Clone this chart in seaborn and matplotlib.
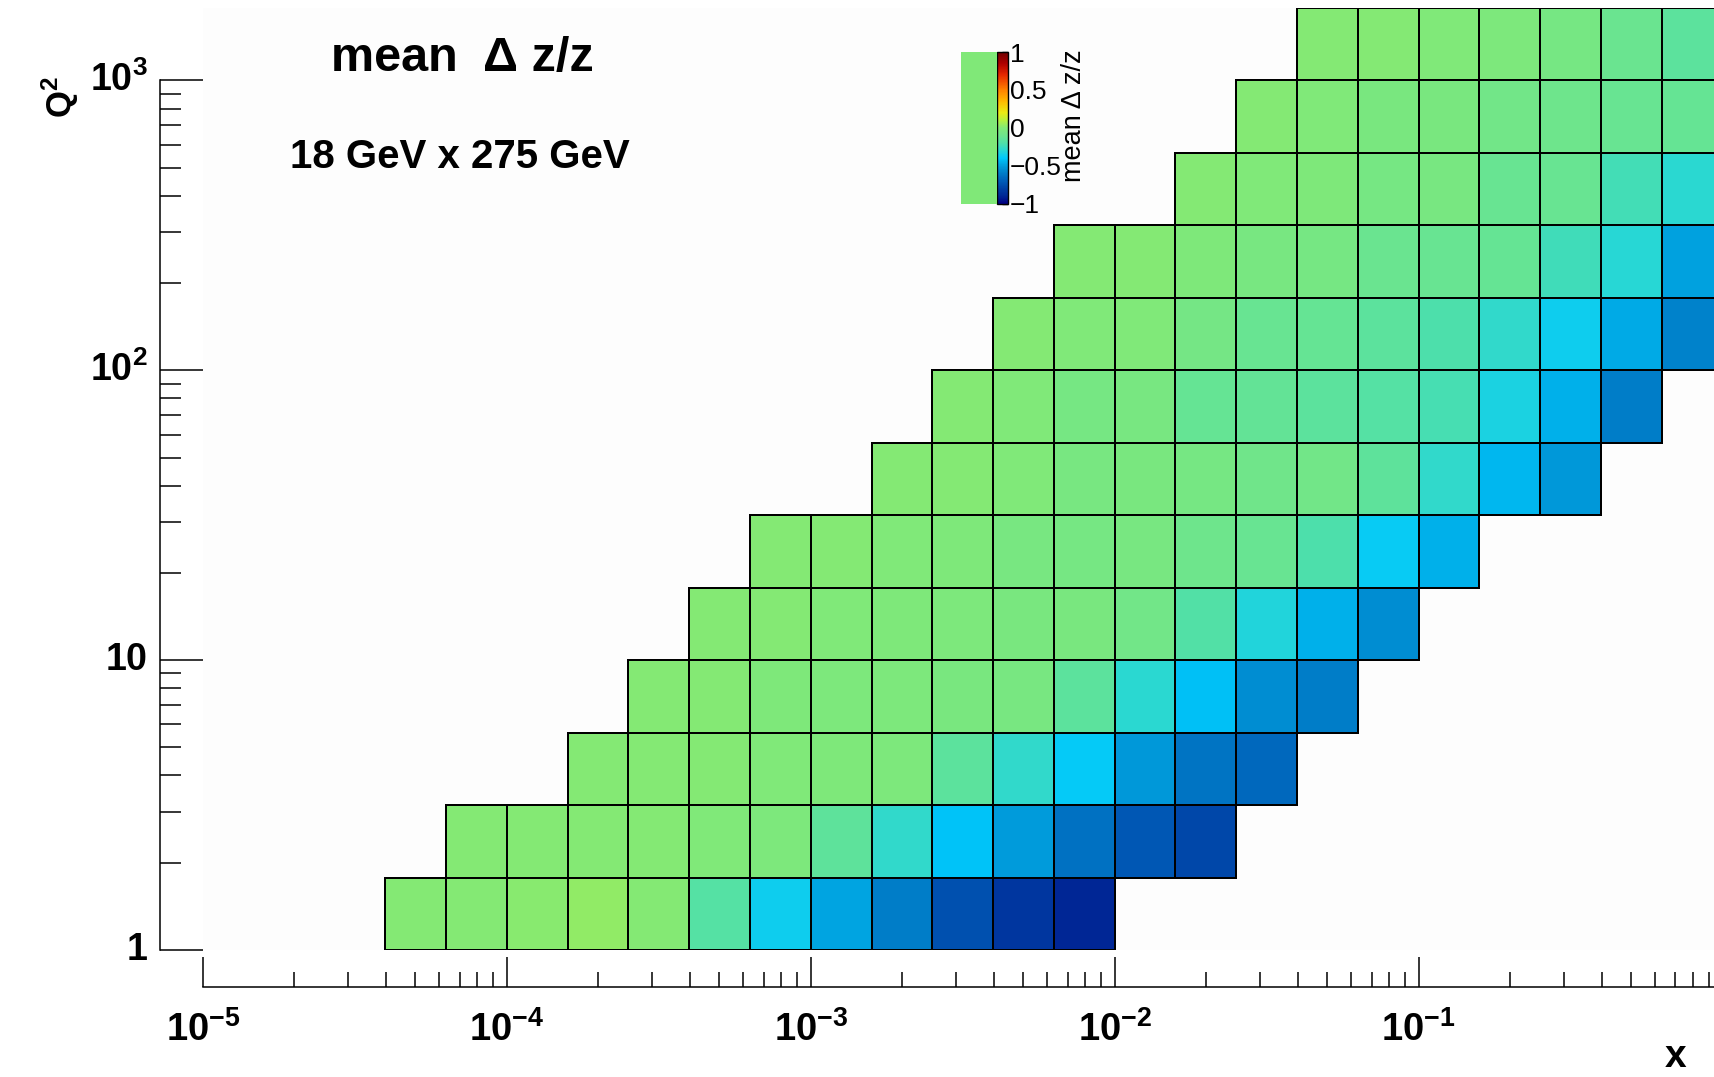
import numpy as np
import pandas as pd
import matplotlib
matplotlib.use("Agg")
import matplotlib.pyplot as plt
import seaborn as sns
from matplotlib.colors import LinearSegmentedColormap
from matplotlib.patches import Rectangle

# ---------------- data ----------------
# log10 bin edges of the 2D histogram (x: 5 bins/decade, Q2: 4 bins/decade)
log_x_edges = np.round(np.linspace(-5.0, 0.0, 26), 2)
log_q2_edges = np.round(np.linspace(0.0, 3.25, 14), 2)

# first filled x-bin of every Q2 row (row 0 = lowest Q2)
first_col = [3, 4, 6, 7, 8, 9, 11, 12, 13, 14, 16, 17, 18]

row_00 = [0.00, 0.00, 0.01, 0.025, 0.00, -0.18, -0.36, -0.49, -0.60, -0.75, -0.84, -0.90]
row_01 = [0.00, 0.00, 0.00, 0.00, -0.01, -0.03, -0.15, -0.28, -0.41, -0.51, -0.64, -0.72, -0.78]
row_02 = [0.00, 0.00, 0.00, -0.01, -0.02, -0.03, -0.16, -0.28, -0.39, -0.52, -0.63, -0.67]
row_03 = [0.00, 0.00, -0.02, -0.03, -0.03, -0.04, -0.05, -0.16, -0.29, -0.42, -0.55, -0.60]
row_04 = [0.00, 0.00, -0.01, -0.02, -0.03, -0.04, -0.04, -0.08, -0.19, -0.32, -0.46, -0.55]
row_05 = [0.00, 0.00, -0.01, -0.02, -0.05, -0.06, -0.05, -0.10, -0.12, -0.21, -0.38, -0.46]
row_06 = [0.00, 0.00, -0.01, -0.05, -0.04, -0.06, -0.09, -0.08, -0.15, -0.28, -0.44, -0.52]
row_07 = [0.00, -0.01, -0.06, -0.05, -0.13, -0.14, -0.16, -0.18, -0.22, -0.33, -0.46, -0.60]
row_08 = [0.00, -0.01, -0.01, -0.07, -0.12, -0.13, -0.16, -0.21, -0.28, -0.36, -0.47, -0.58]
row_09 = [0.00, 0.00, -0.02, -0.05, -0.06, -0.11, -0.12, -0.13, -0.24, -0.30, -0.50]
row_10 = [0.00, -0.01, -0.02, -0.06, -0.05, -0.12, -0.12, -0.23, -0.29]
row_11 = [0.00, -0.01, -0.04, -0.04, -0.08, -0.10, -0.12, -0.13]
row_12 = [0.00, 0.00, -0.01, -0.03, -0.06, -0.11, -0.16]

rows = [row_00, row_01, row_02, row_03, row_04, row_05, row_06,
        row_07, row_08, row_09, row_10, row_11, row_12]

x_major_exp = [-5, -4, -3, -2, -1]
x_major_labels = [r"$\mathbf{10^{-5}}$", r"$\mathbf{10^{-4}}$", r"$\mathbf{10^{-3}}$",
                  r"$\mathbf{10^{-2}}$", r"$\mathbf{10^{-1}}$"]
y_major_exp = [0, 1, 2, 3]
y_major_labels = [r"$\mathbf{1}$", r"$\mathbf{10}$", r"$\mathbf{10^{2}}$", r"$\mathbf{10^{3}}$"]
cbar_ticks = [-1, -0.5, 0, 0.5, 1]
cbar_labels = ["\u22121", "\u22120.5", "0", "0.5", "1"]

# ---------------- build matrix ----------------
n_x = len(log_x_edges) - 1
n_q = len(log_q2_edges) - 1
mat = np.full((n_q, n_x), np.nan)
for i, (c0, vals) in enumerate(zip(first_col, rows)):
    mat[i, c0:c0 + len(vals)] = vals
df = pd.DataFrame(mat)

# ---------------- style ----------------
sns.set_style("white")
plt.rcParams["font.family"] = ["Liberation Sans", "DejaVu Sans"]
plt.rcParams["mathtext.fontset"] = "custom"
plt.rcParams["mathtext.rm"] = "Liberation Sans"
plt.rcParams["mathtext.bf"] = "Liberation Sans:bold"
plt.rcParams["axes.unicode_minus"] = True
plt.rcParams["text.color"] = "black"
plt.rcParams["xtick.color"] = "black"
plt.rcParams["ytick.color"] = "black"
plt.rcParams["xtick.labelcolor"] = "black"
plt.rcParams["ytick.labelcolor"] = "black"
plt.rcParams["axes.labelcolor"] = "black"

stops = [(-1.00, (0, 0, 130)), (-0.90, (0, 40, 150)), (-0.80, (0, 65, 165)),
         (-0.70, (0, 95, 185)), (-0.60, (0, 125, 200)), (-0.50, (0, 160, 222)),
         (-0.40, (0, 200, 252)), (-0.30, (40, 215, 212)), (-0.20, (80, 224, 168)),
         (-0.10, (110, 229, 140)), (0.00, (130, 233, 118)), (0.10, (185, 240, 60)),
         (0.20, (235, 235, 20)), (0.35, (255, 185, 0)), (0.50, (255, 130, 0)),
         (0.70, (230, 40, 0)), (0.85, (175, 0, 0)), (1.00, (110, 0, 0))]
cmap = LinearSegmentedColormap.from_list(
    "rootlike", [((v + 1) / 2, tuple(c / 255 for c in col)) for v, col in stops])

W, H = 1715, 1077
fig = plt.figure(figsize=(W / 100, H / 100), dpi=100)
fig.patch.set_facecolor("white")

# axes geometry in pixels (extends past right edge like the cropped original)
x0_px, x1_px = 203.0, 1722.5
yb_px, yt_px = 950.0, 8.0
ax = fig.add_axes([x0_px / W, 1 - yb_px / H, (x1_px - x0_px) / W, (yb_px - yt_px) / H])
cax = fig.add_axes([997 / W, 1 - 203.5 / H, 11.5 / W, 151.5 / H])

# green box left of palette (as in original)
fig.patches.append(Rectangle((961 / W, 1 - 203.5 / H), 36 / W, 151.5 / H,
                             transform=fig.transFigure, facecolor="#80e878",
                             edgecolor="none", zorder=0))

sns.heatmap(df, ax=ax, cmap=cmap, vmin=-1, vmax=1, linewidths=1.4, linecolor="black",
            cbar_ax=cax, cbar_kws={"ticks": cbar_ticks},
            xticklabels=False, yticklabels=False)
# only filled cells get a black border
mesh = ax.collections[0]
valid = ~np.isnan(mat).ravel()
ec = np.zeros((valid.size, 4))
ec[valid] = (0, 0, 0, 1)
mesh.set_edgecolors(ec)

ax.set_facecolor("#fdfdfd")
ax.set_xlim(0, n_x)
ax.set_ylim(0, n_q)

# axes positioned like ROOT: detached from the frame
for s in ["top", "right"]:
    ax.spines[s].set_visible(False)
for s in ["left", "bottom"]:
    ax.spines[s].set_visible(True)
    ax.spines[s].set_color("black")
    ax.spines[s].set_linewidth(1.1)
ax.spines["left"].set_position(("outward", 43 * 0.72))
ax.spines["bottom"].set_position(("outward", 37 * 0.72))
ax.spines["left"].set_bounds(0, 12)

dx = log_x_edges[1] - log_x_edges[0]
dq = log_q2_edges[1] - log_q2_edges[0]
x_major = [(e - log_x_edges[0]) / dx for e in x_major_exp]
x_minor = [(np.log10(m) + e - log_x_edges[0]) / dx for e in x_major_exp for m in range(2, 10)]
y_major = [(e - log_q2_edges[0]) / dq for e in y_major_exp]
y_minor = [(np.log10(m) + e - log_q2_edges[0]) / dq for e in y_major_exp[:-1] for m in range(2, 10)]

ax.set_xticks(x_major)
ax.set_xticklabels(x_major_labels)
ax.set_xticks(x_minor, minor=True)
ax.set_yticks(y_major)
ax.set_yticklabels(y_major_labels)
ax.set_yticks(y_minor, minor=True)

ax.tick_params(axis="x", which="major", direction="in", length=30 * 0.72, width=1.1,
               labelsize=27.5, pad=17, bottom=True, rotation=0,
               color="black", labelcolor="black")
ax.tick_params(axis="x", which="minor", direction="in", length=15 * 0.72, width=1.1,
               bottom=True, color="black")
ax.tick_params(axis="y", which="major", direction="in", length=43 * 0.72, width=1.1,
               labelsize=27, pad=9, left=True, rotation=0,
               color="black", labelcolor="black")
ax.tick_params(axis="y", which="minor", direction="in", length=21 * 0.72, width=1.1,
               left=True, color="black")
for lab in ax.get_yticklabels():
    lab.set_verticalalignment("center")

# colorbar styling
cb = mesh.colorbar
cb.outline.set_linewidth(1.0)
cb.outline.set_edgecolor("black")
cax.set_yticks(cbar_ticks)
cax.set_yticklabels(cbar_labels)
cax.tick_params(axis="y", direction="in", length=6 * 0.72, width=1.0, labelsize=19, pad=1,
                color="black", labelcolor="black")

# texts
fig.text(331 / W, 1 - 71 / H, "mean  \u0394 z/z", fontsize=35, fontweight="bold",
         ha="left", va="baseline", color="black")
fig.text(290 / W, 1 - 168 / H, "18 GeV x 275 GeV", fontsize=29, fontweight="bold",
         ha="left", va="baseline", color="black")
fig.text(60 / W, 1 - 97 / H, r"$\mathbf{Q^{2}}$", fontsize=25, rotation=90,
         ha="center", va="center", color="black")
fig.text(1686 / W, 1 - 1067 / H, "x", fontsize=28, fontweight="bold",
         ha="right", va="baseline", color="black")
fig.text(1061 / W, 1 - 116 / H, "mean \u0394 z/z", fontsize=19.5, rotation=90,
         ha="left", va="center", color="black")

fig.savefig("out.png", dpi=100)
